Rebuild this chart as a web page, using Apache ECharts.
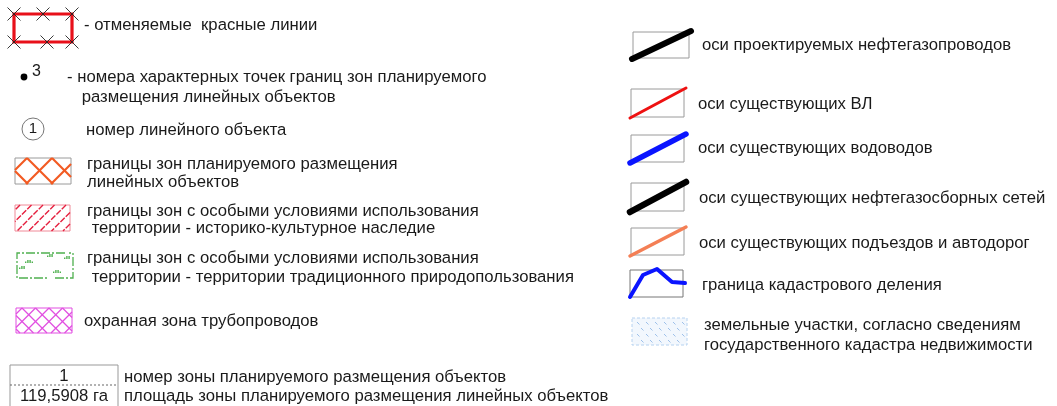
<!DOCTYPE html>
<html><head><meta charset="utf-8">
<script src="https://cdn.jsdelivr.net/npm/echarts@6/dist/echarts.min.js"></script>
<style>html,body{margin:0;padding:0;background:#fff}#c{width:1057px;height:406px}</style>
</head><body><div id="c"></div>
<script>
// ---- legend content ----
const leftSymbols = ['cancelledRedLines','pointNumber','objectNumber','zoneOrange','heritageHatch','traditionalUse','pipelineZone','zoneTable'];
const leftLabels = [
  ['- отменяемые  красные линии'],
  ['- номера характерных точек границ зон планируемого', ' размещения линейных объектов'],
  ['номер линейного объекта'],
  ['границы зон планируемого размещения', 'линейных объектов'],
  ['границы зон с особыми условиями использования', ' территории - историко-культурное наследие'],
  ['границы зон с особыми условиями использования', ' территории - территории традиционного природопользования'],
  ['охранная зона трубопроводов'],
  ['номер зоны планируемого размещения объектов', 'площадь зоны планируемого размещения линейных объектов']
];
const rightSymbols = ['projPipe','powerLine','waterLine','gatherLine','roadLine','cadastral','landPlots'];
const rightLabels = [
  ['оси проектируемых нефтегазопроводов'],
  ['оси существующих ВЛ'],
  ['оси существующих водоводов'],
  ['оси существующих нефтегазосборных сетей'],
  ['оси существующих подъездов и автодорог'],
  ['граница кадастрового деления'],
  ['земельные участки, согласно сведениям', 'государственного кадастра недвижимости']
];
const pointNumberLabel = '3';
const objectNumberLabel = '1';
const zoneNumberLabel = '1';
const zoneAreaLabel = '119,5908 га';

// ---- layout (positions / styles) ----
const FONT = '"Liberation Sans", Arial, sans-serif';
const FS = 16.7;
const TXT = '#1a1a1a';
const leftBoxes = [[14,14,72,42],[24,77],[33,129],[15,158,71,184],[15,205,70,231],[17,253,73,278],[16,308,72,333],[10,365,118,420]];
const leftText = [
  [[84,25]],
  [[67,77],[77,97]],
  [[86,130]],
  [[87,164],[87,182]],
  [[87,211],[87,228]],
  [[87,258],[87,277]],
  [[84,321]],
  [[124,377],[124,396]]
];
const rightBoxes = [[633,32,689,58],[631,89,684,117],[631,135,684,162],[631,183,684,211],[631,228,684,255],[630,270,683,297],[632,318,687,345]];
const rightText = [
  [[702,45]],[[698,104]],[[698,148]],[[699,198]],[[699,243]],[[702,285]],[[704,325],[704,345]]
];
const lineStyles = {
  projPipe:{c:'#000',w:6}, powerLine:{c:'#ee1111',w:3}, waterLine:{c:'#0a14ff',w:5.5},
  gatherLine:{c:'#000',w:6.5}, roadLine:{c:'#f47f55',w:3.5}
};

function clip(x1,y1,x2,y2,r){
  let t0=0,t1=1; const dx=x2-x1, dy=y2-y1;
  const p=[-dx,dx,-dy,dy], q=[x1-r[0], r[2]-x1, y1-r[1], r[3]-y1];
  for(let i=0;i<4;i++){
    if(p[i]===0){ if(q[i]<0) return null; }
    else { const t=q[i]/p[i];
      if(p[i]<0){ if(t>t1) return null; if(t>t0) t0=t; }
      else { if(t<t0) return null; if(t<t1) t1=t; } }
  }
  return [x1+t0*dx,y1+t0*dy,x1+t1*dx,y1+t1*dy];
}
function hatch(r, spacing, dir, phase, style){
  const out=[];
  for(let k=-20;k<40;k++){
    let seg; const c=phase+k*spacing;
    if(dir===1){ seg=clip(c-(r[1]-200),r[1]-200,c-(r[3]+200),r[3]+200,r); }
    else { seg=clip(r[0]-200,r[0]-200+c,r[2]+200,r[2]+200+c,r); }
    if(seg && Math.hypot(seg[2]-seg[0],seg[3]-seg[1])>0.5)
      out.push({type:'line',shape:{x1:seg[0],y1:seg[1],x2:seg[2],y2:seg[3]},style:Object.assign({lineCap:'butt'},style)});
  }
  return out;
}
function rectEl(r, style){ return {type:'rect',shape:{x:r[0],y:r[1],width:r[2]-r[0],height:r[3]-r[1]},style:Object.assign({fill:null},style)}; }
function textEl(x,y,t,extra){ return {type:'text',style:Object.assign({x:x,y:y,text:t,fill:TXT,fontSize:FS,fontFamily:FONT,verticalAlign:'middle',align:'left'},extra||{})}; }
function cross(x,y,s){ return [
  {type:'line',shape:{x1:x-s,y1:y-s,x2:x+s,y2:y+s},style:{stroke:'#222',lineWidth:0.9}},
  {type:'line',shape:{x1:x-s,y1:y+s,x2:x+s,y2:y-s},style:{stroke:'#222',lineWidth:0.9}}]; }

function drawSymbol(kind, b, P){
  const els=[];
  const R = b.length===4 ? (()=>{const a=P(b[0],b[1]), c=P(b[2],b[3]); return [a[0],a[1],c[0],c[1]];})() : null;
  switch(kind){
    case 'cancelledRedLines':
      els.push(rectEl(R,{stroke:'#e8101a',lineWidth:3.2}));
      [[R[0],R[1]],[R[2],R[1]],[R[0],R[3]],[R[2],R[3]],[R[0]+29,R[1]],[R[0]+33,R[3]]].forEach(p=>els.push(...cross(p[0],p[1],6.5)));
      break;
    case 'pointNumber': {
      const p=P(b[0],b[1]);
      els.push({type:'circle',shape:{cx:p[0],cy:p[1],r:3.4},style:{fill:'#000'}});
      els.push(textEl(p[0]+8,p[1]-5,pointNumberLabel,{fontSize:16}));
      break; }
    case 'objectNumber': {
      const p=P(b[0],b[1]);
      els.push({type:'circle',shape:{cx:p[0],cy:p[1],r:11},style:{fill:'#fff',stroke:'#777',lineWidth:1}});
      els.push(textEl(p[0],p[1],objectNumberLabel,{align:'center',fontSize:15}));
      break; }
    case 'zoneOrange':
      els.push(rectEl(R,{stroke:'#9a9a9a',lineWidth:1}));
      els.push(...hatch(R,25,1,R[0]+12+R[1],{stroke:'#f25a22',lineWidth:2.2}));
      els.push(...hatch(R,25,-1,R[1]-(R[0]+12),{stroke:'#f25a22',lineWidth:2.2}));
      break;
    case 'heritageHatch':
      els.push(rectEl(R,{stroke:'#f08a98',lineWidth:1}));
      els.push(...hatch(R,11.5,1,R[0]+R[3]+2,{stroke:'#e5203f',lineWidth:1.4,lineDash:[6,1.5]}));
      break;
    case 'traditionalUse': {
      const g='#4fb04f';
      els.push({type:'polyline',shape:{points:[[R[0]+48,R[1]],[R[0],R[1]],[R[0],R[3]],[R[0]+32,R[3]]]},style:{stroke:g,lineWidth:1.3,lineDash:[9,2,2,2],fill:null}});
      els.push({type:'polyline',shape:{points:[[R[0]+38,R[3]],[R[2],R[3]],[R[2],R[1]],[R[0]+52,R[1]]]},style:{stroke:g,lineWidth:1.3,lineDash:[9,2,2,2],fill:null}});
      const marks=[[8,7,4],[47,3,3],[2,13,3],[36,17,4],[30,1,3]];
      marks.forEach(m=>{ for(let i=0;i<m[2];i++){ const hh=(i===1||i===2)?3:1.6;
        els.push({type:'rect',shape:{x:R[0]+m[0]+i*2.2,y:R[1]+m[1]+3-hh,width:1.4,height:hh},style:{fill:g}}); } });
      break; }
    case 'pipelineZone':
      els.push(rectEl(R,{stroke:'#e14fe1',lineWidth:1}));
      els.push(...hatch(R,13.5,1,R[0]+R[1]+6,{stroke:'#e14fe1',lineWidth:1.3}));
      els.push(...hatch(R,13.5,-1,R[1]-R[0]-6,{stroke:'#e14fe1',lineWidth:1.3}));
      break;
    case 'zoneTable': {
      els.push({type:'polyline',shape:{points:[[R[0],R[3]],[R[0],R[1]],[R[2],R[1]],[R[2],R[3]]]},style:{stroke:'#999',lineWidth:1,fill:null}});
      els.push({type:'line',shape:{x1:R[0],y1:R[1]+20,x2:R[2]-2,y2:R[1]+20},style:{stroke:'#666',lineWidth:1,lineDash:[2,2]}});
      const cx=(R[0]+R[2])/2;
      els.push(textEl(cx,R[1]+11,zoneNumberLabel,{align:'center'}));
      els.push(textEl(cx,R[1]+31,zoneAreaLabel,{align:'center'}));
      break; }
    case 'projPipe': case 'powerLine': case 'waterLine': case 'gatherLine': case 'roadLine': {
      const s=lineStyles[kind];
      els.push(rectEl(R,{stroke:'#9a9a9a',lineWidth:1}));
      els.push({type:'line',shape:{x1:R[0]-1,y1:R[3]+1,x2:R[2]+2,y2:R[1]-1},style:{stroke:s.c,lineWidth:s.w,lineCap:'round'}});
      break; }
    case 'cadastral':
      els.push(rectEl(R,{stroke:'#777',lineWidth:1}));
      els.push({type:'polyline',shape:{points:[[R[0],R[3]],[R[0]+13,R[1]+5],[R[0]+27,R[1]-1],[R[0]+42,R[1]+12],[R[0]+55,R[1]+13]]},style:{stroke:'#0a14ff',lineWidth:4,lineJoin:'round',lineCap:'round',fill:null}});
      break;
    case 'landPlots':
      els.push({type:'rect',shape:{x:R[0],y:R[1],width:R[2]-R[0],height:R[3]-R[1]},style:{fill:'#f2f7fd',stroke:'#b6d2f0',lineWidth:1,lineDash:[3,2]}});
      for(let row=0;row<4;row++){ for(let col=0;col<6;col++){
        const x=R[0]+5+col*9+(row%2)*4, y=R[1]+4+row*6;
        if(x+3>R[2]-1) continue;
        els.push({type:'line',shape:{x1:x,y1:y,x2:x+2.5,y2:y+2.5},style:{stroke:'#9dc0ea',lineWidth:1}});
      } }
      break;
  }
  return els;
}

const entries=[];
leftSymbols.forEach((k,i)=>entries.push({kind:k,labels:leftLabels[i],box:leftBoxes[i],txt:leftText[i]}));
rightSymbols.forEach((k,i)=>entries.push({kind:k,labels:rightLabels[i],box:rightBoxes[i],txt:rightText[i]}));

const chart=echarts.init(document.getElementById('c'),null,{renderer:'canvas'});
chart.setOption({
  animation:false,
  backgroundColor:'#fff',
  grid:{left:0,right:0,top:0,bottom:0},
  xAxis:{type:'value',min:0,max:1057,show:false},
  yAxis:{type:'value',min:0,max:406,inverse:true,show:false},
  series:[{
    type:'custom',
    clip:false,
    silent:true,
    data:entries.map((e,i)=>[i,0]),
    renderItem:function(params,api){
      const e=entries[params.dataIndex];
      const P=(x,y)=>api.coord([x,y]);
      const children=drawSymbol(e.kind,e.box,P);
      e.labels.forEach((t,j)=>{ const p=P(e.txt[j][0],e.txt[j][1]); children.push(textEl(p[0],p[1],t)); });
      return {type:'group',children:children};
    }
  }]
});
</script></body></html>
